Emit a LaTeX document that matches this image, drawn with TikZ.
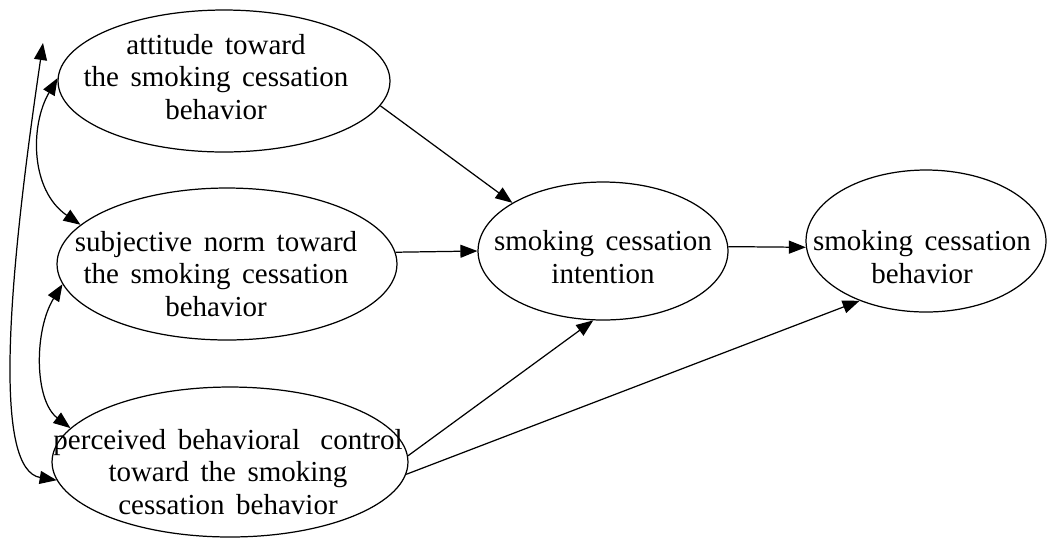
\documentclass[tikz,border=0pt]{standalone}
\usepackage{fontspec}
\setmainfont{Liberation Serif}[WordSpace=1.6]
\usetikzlibrary{shapes.geometric,arrows.meta}

\begin{document}
\begin{tikzpicture}[x=0.02cm,y=-0.02cm]
		\tikzset{factor/.style = {shape=ellipse, draw, line width=0.7pt, inner sep=0pt}}
		\tikzset{words/.style = {align=center, inner sep=0pt, font=\fontsize{16.5}{18.6}\selectfont}}
		\tikzset{>={Triangle[length=3.4mm,width=2.6mm]}}
		\tikzset{effect/.style = {->, line width=0.7pt}}
		\tikzset{corr/.style = {<->, line width=0.7pt}}

		\useasboundingbox (0,0) rectangle (1047,539);

		\node[factor, minimum width=6.64cm, minimum height=2.84cm] (att) at (224,81) {};
		\node[factor, minimum width=6.8cm, minimum height=3.04cm] (norm) at (227,264) {};
		\node[factor, minimum width=7.12cm, minimum height=3cm] (pbc) at (230,462) {};
		\node[factor, minimum width=5cm, minimum height=2.76cm] (int) at (603,251) {};
		\node[factor, minimum width=4.8cm, minimum height=2.84cm] (beh) at (926,241) {};

		\node[words] (att-t) at (216,77) {attitude toward\\the smoking cessation\\behavior};
		\node[words] (norm-t) at (216,274) {subjective norm toward\\the smoking cessation\\behavior};
		\node[words] (pbc-t) at (228,472) {perceived behavioral\hspace{0.3em} control\\toward the smoking\\cessation behavior};
		\node[words] (int-t) at (603,257) {smoking cessation\\intention};
		\node[words] (beh-t) at (922,257) {smoking cessation\\behavior};

		\coordinate (top) at (43,43);

		\draw[effect] (att.-9) -- (int.152);
		\draw[effect] (norm.4) -- (int.west);
		\draw[effect] (int.2) -- (beh.183);
		\draw[effect] (pbc.2) -- (int.262);
		\draw[effect] (pbc.-4) -- (beh.222);

		\draw[corr] (att.179) .. controls (30,125) and (30,190) .. (norm.165);
		\draw[corr] (norm.187) .. controls (34,330) and (34,400) .. (pbc.168);
		\draw[corr] (top) .. controls (5,300) and (-5,470) .. (pbc.186);

	\end{tikzpicture}
\end{document}
